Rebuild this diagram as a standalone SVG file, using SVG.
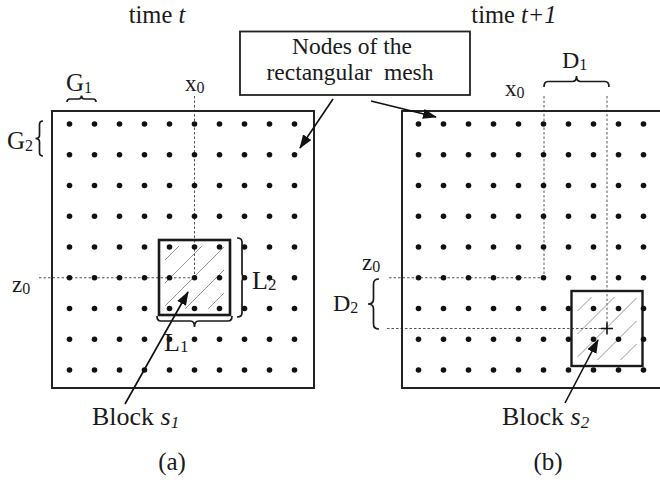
<svg xmlns="http://www.w3.org/2000/svg" xmlns:xlink="http://www.w3.org/1999/xlink" width="660" height="482" viewBox="0 0 660 482">
<style>
text{font-family:"Liberation Serif","Times New Roman",serif;fill:#1a1a1a}
.frame{fill:none;stroke:#222;stroke-width:2}
.dash{fill:none;stroke:#555;stroke-width:1;stroke-dasharray:2.5,2}
.brace{fill:none;stroke:#1a1a1a;stroke-width:1.7}
.hatch{stroke:#888;stroke-width:0.9;fill:none}
.arrow{stroke:#111;stroke-width:1.6;fill:none;marker-end:url(#ah)}
.dot{fill:#111}
</style>
<defs>
<marker id="ah" viewBox="0 0 14 10" refX="13" refY="5" markerWidth="14" markerHeight="10" markerUnits="userSpaceOnUse" orient="auto">
<path d="M0,0 L14,5 L0,10 Z" fill="#111"/>
</marker>
<g id="row">
<circle class="dot" cx="0" cy="0" r="2.8"/><circle class="dot" cx="25" cy="0" r="2.8"/><circle class="dot" cx="50" cy="0" r="2.8"/><circle class="dot" cx="75" cy="0" r="2.8"/><circle class="dot" cx="100" cy="0" r="2.8"/><circle class="dot" cx="125" cy="0" r="2.8"/><circle class="dot" cx="150" cy="0" r="2.8"/><circle class="dot" cx="175" cy="0" r="2.8"/><circle class="dot" cx="200" cy="0" r="2.8"/><circle class="dot" cx="225" cy="0" r="2.8"/>
</g>
<g id="hatchset" class="hatch">
<line x1="165" y1="260" x2="179" y2="246"/>
<line x1="165" y1="283" x2="202" y2="246"/>
<line x1="165" y1="306" x2="224" y2="247"/>
<line x1="185" y1="309" x2="224" y2="270"/>
<line x1="208" y1="309" x2="224" y2="293"/>
</g>
</defs>
<rect width="660" height="482" fill="#fff"/>

<text x="157" y="22.5" font-size="24.5" text-anchor="middle">time <tspan font-style="italic">t</tspan></text>
<text x="514" y="22.5" font-size="24.5" text-anchor="middle">time <tspan font-style="italic">t+1</tspan></text>

<g id="panel-a">
<path class="dash" d="M194.5,96 V277.75 M39,277.75 H194.5"/>
<rect class="frame" x="52" y="111" width="262" height="277"/>
<use xlink:href="#hatchset"/>
<rect x="159" y="240" width="71" height="75" fill="none" stroke="#1a1a1a" stroke-width="2.6"/>
<use xlink:href="#row" x="69.5" y="124"/>
<use xlink:href="#row" x="69.5" y="154.75"/>
<use xlink:href="#row" x="69.5" y="185.5"/>
<use xlink:href="#row" x="69.5" y="216.25"/>
<use xlink:href="#row" x="69.5" y="247"/>
<use xlink:href="#row" x="69.5" y="277.75"/>
<use xlink:href="#row" x="69.5" y="308.5"/>
<use xlink:href="#row" x="69.5" y="339.25"/>
<use xlink:href="#row" x="69.5" y="370"/>
</g>

<g id="labels-a">
<path class="brace" d="M67,102 Q67,99 70,99 L78.5,99 Q81.5,99 81.5,95.5 Q81.5,99 84.5,99 L93,99 Q96,99 96,102"/>
<text x="66" y="91" font-size="25">G<tspan font-size="16" dy="2">1</tspan></text>
<path class="brace" d="M43,121 Q39.5,121 39.5,124.5 L39.5,135 Q39.5,138.5 35.5,138.5 Q39.5,138.5 39.5,142 L39.5,152.5 Q39.5,156 43,156"/>
<text x="7" y="149" font-size="25">G<tspan font-size="16" dy="2">2</tspan></text>
<text x="185" y="91" font-size="23">x<tspan font-size="16" dy="2">0</tspan></text>
<text x="12" y="292" font-size="23">z<tspan font-size="16" dy="2">0</tspan></text>
<path class="brace" d="M237,238 Q242,238 242,242 L242,273.5 Q242,277.5 247,277.5 Q242,277.5 242,281.5 L242,313 Q242,317 237,317"/>
<text x="252" y="289" font-size="26">L<tspan font-size="17" dy="1">2</tspan></text>
<path class="brace" d="M157,316 Q157,321 161,321 L190.5,321 Q194.5,321 194.5,327 Q194.5,321 198.5,321 L228,321 Q232,321 232,316"/>
<text x="164" y="351" font-size="26">L<tspan font-size="17" dy="1">1</tspan></text>
<text x="92" y="425" font-size="26">Block <tspan font-style="italic">s</tspan><tspan font-style="italic" font-size="17" dy="3">1</tspan></text>
<text x="172" y="470" font-size="25" text-anchor="middle">(a)</text>
</g>

<g id="panel-b">
<path class="dash" d="M544,96 V277.75 M389,277.75 H544 M607,96 V328.5 M387,328.5 H607"/>
<path class="frame" d="M660,111 H402 V388 H660"/>
<use xlink:href="#hatchset" transform="translate(412.5,51)"/>
<rect x="571.5" y="291" width="71" height="75" fill="none" stroke="#1a1a1a" stroke-width="2.4"/>
<path d="M601,328.5 H613 M607,322.5 V334.5" stroke="#111" stroke-width="1.6"/>
<use xlink:href="#row" x="418.5" y="124"/>
<use xlink:href="#row" x="418.5" y="154.75"/>
<use xlink:href="#row" x="418.5" y="185.5"/>
<use xlink:href="#row" x="418.5" y="216.25"/>
<use xlink:href="#row" x="418.5" y="247"/>
<use xlink:href="#row" x="418.5" y="277.75"/>
<use xlink:href="#row" x="418.5" y="308.5"/>
<use xlink:href="#row" x="418.5" y="339.25"/>
<use xlink:href="#row" x="418.5" y="370"/>
</g>

<g id="labels-b">
<path class="brace" d="M544,87 Q544,81.5 548,81.5 L572.5,81.5 Q576.5,81.5 576.5,76 Q576.5,81.5 580.5,81.5 L605,81.5 Q609,81.5 609,87"/>
<text x="562" y="68" font-size="24">D<tspan font-size="16" dy="2">1</tspan></text>
<text x="505" y="96" font-size="23">x<tspan font-size="16" dy="2">0</tspan></text>
<text x="362" y="270" font-size="23">z<tspan font-size="16" dy="2">0</tspan></text>
<path class="brace" d="M379,279 Q373.5,279 373.5,284 L373.5,299 Q373.5,304 368,304 Q373.5,304 373.5,309 L373.5,324 Q373.5,329 379,329"/>
<text x="333" y="311" font-size="24">D<tspan font-size="16" dy="2">2</tspan></text>
<text x="502" y="425" font-size="26">Block <tspan font-style="italic">s</tspan><tspan font-style="italic" font-size="17" dy="3">2</tspan></text>
<text x="548" y="470" font-size="25" text-anchor="middle">(b)</text>
</g>

<g id="callout">
<rect x="240" y="31.5" width="230" height="63.5" fill="#fff" stroke="#222" stroke-width="1.8"/>
<text x="352" y="54" font-size="23.5" text-anchor="middle">Nodes of the</text>
<text x="350" y="80" font-size="23.5" text-anchor="middle" xml:space="preserve">rectangular  mesh</text>
</g>

<g id="connectors">
<line class="arrow" x1="333" y1="99" x2="300" y2="148"/>
<line class="arrow" x1="371" y1="101" x2="436" y2="117"/>
<line class="arrow" x1="125" y1="404" x2="188" y2="292"/>
<line class="arrow" x1="565" y1="403" x2="598" y2="340"/>
</g>
</svg>
